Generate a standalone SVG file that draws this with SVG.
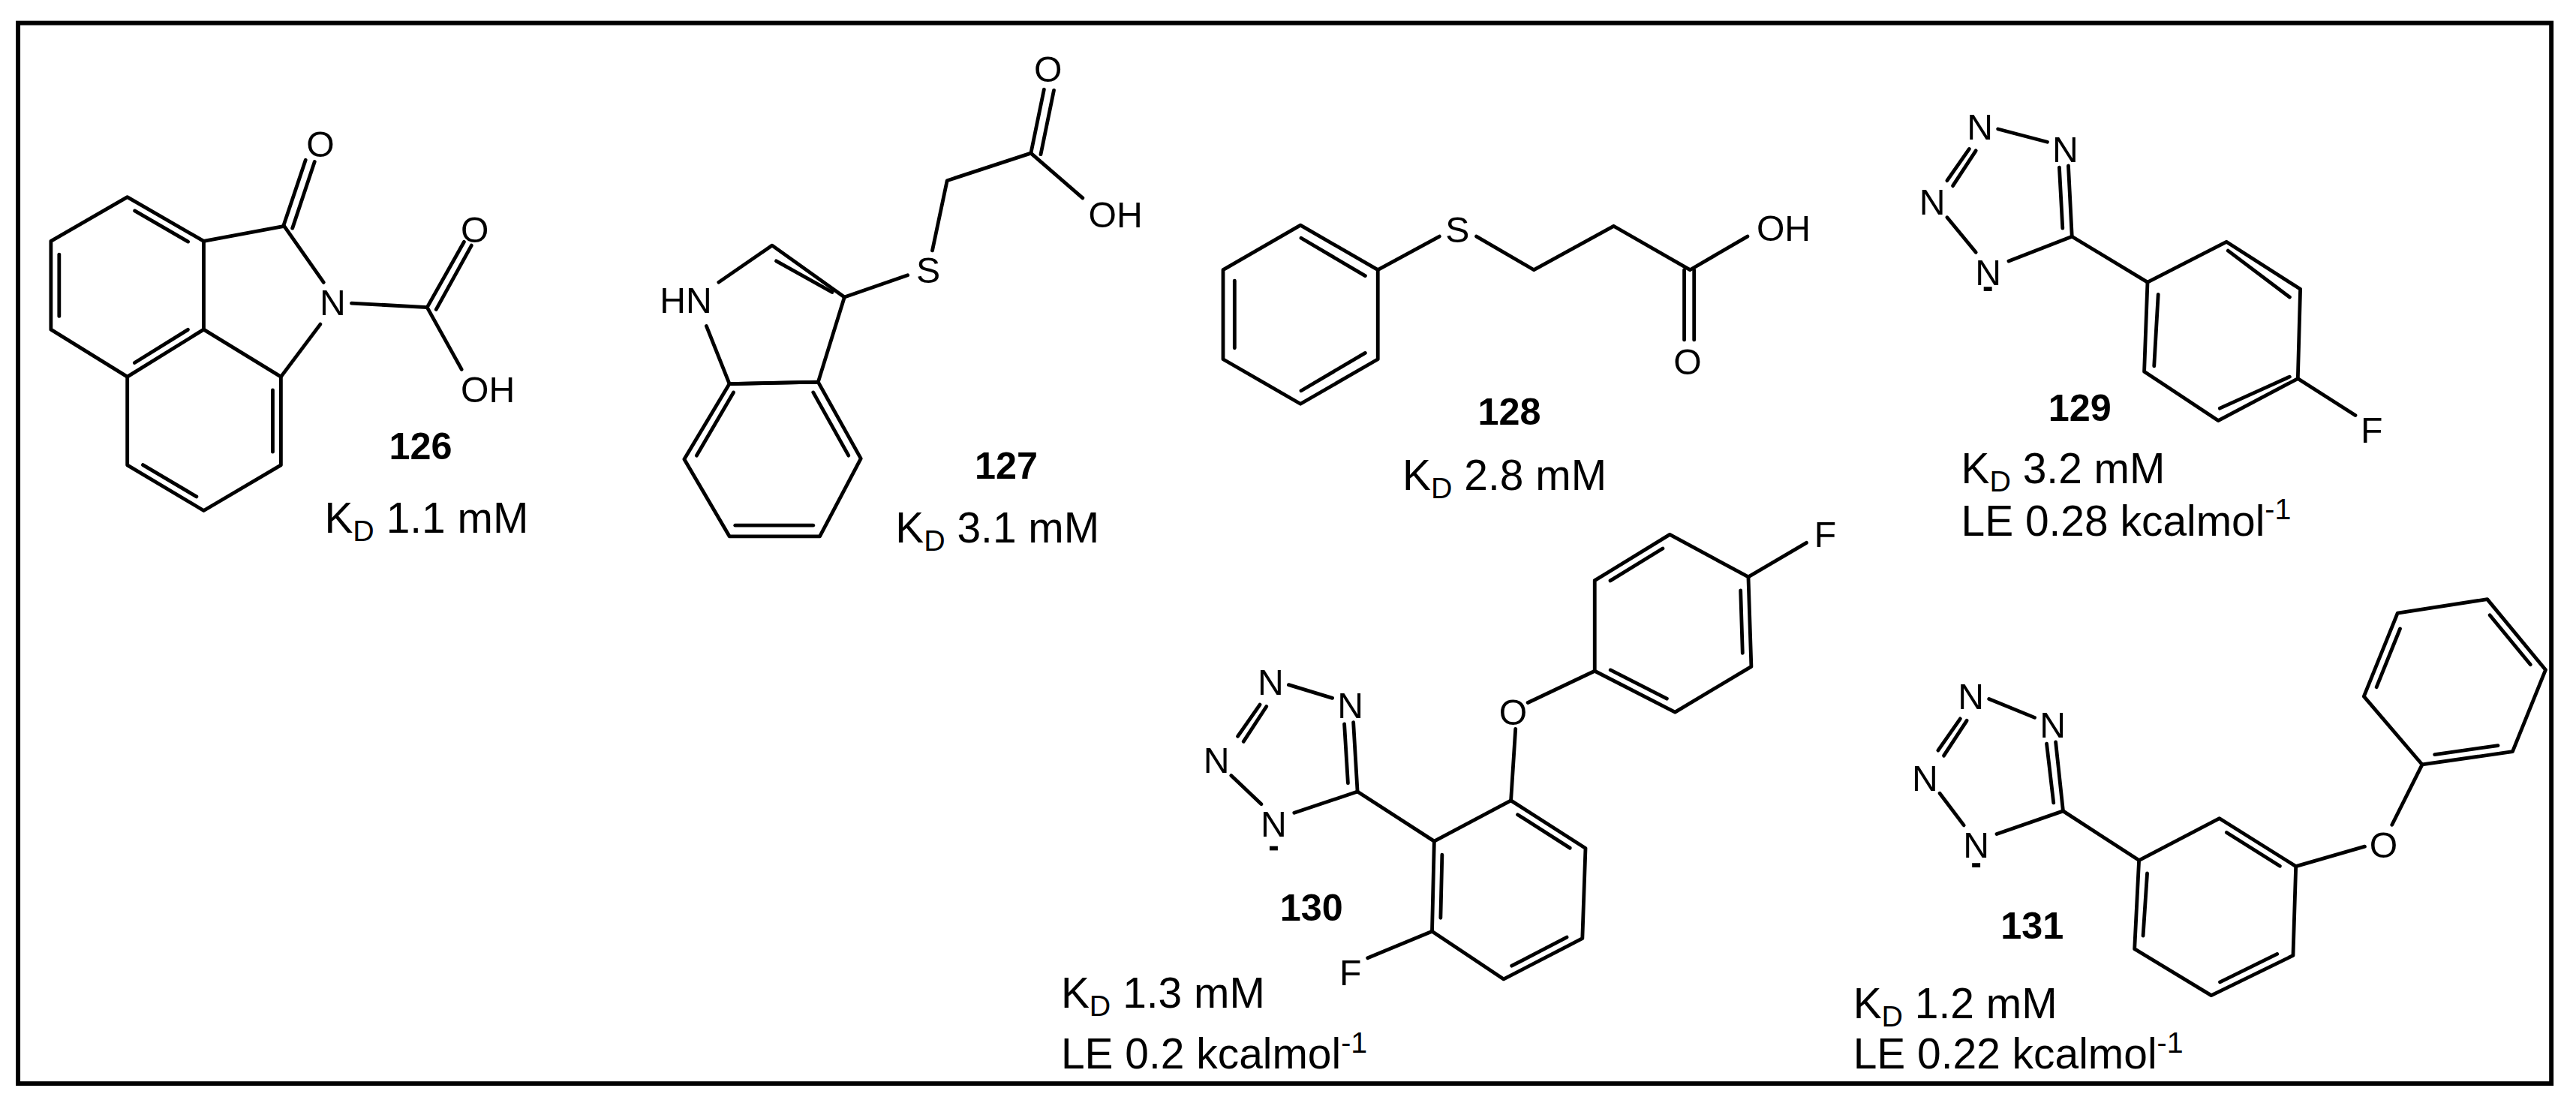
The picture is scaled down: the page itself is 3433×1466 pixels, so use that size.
<svg xmlns="http://www.w3.org/2000/svg" width="3433" height="1466" viewBox="0 0 3433 1466">
<style>
line,polyline,polygon{stroke:#000;stroke-width:2.2;fill:none;stroke-linecap:round;stroke-linejoin:round}
.a{font-family:"Liberation Sans",Arial,sans-serif;font-size:22px;text-anchor:middle}
.n{font-family:"Liberation Sans",Arial,sans-serif;font-size:23px;font-weight:bold;text-anchor:middle}
.t{font-family:"Liberation Sans",Arial,sans-serif;font-size:26px}
.s{font-size:18px}
</style>
<rect width="3433" height="1466" fill="#fff"/>
<g transform="scale(2.1894,2.188)">
<rect x="11" y="14" width="1542" height="646" fill="none" stroke="#000" stroke-width="2.7"/>
<g id="c126">
<polygon points="77.5,120 124,146.9 124,200.7 77.5,229.5 31,200.7 31,146.9"/>
<polyline points="77.5,229.5 77.5,283.3 124,311 171,283.3 171,229.5 124,200.7"/>
<line x1="82" y1="128.4" x2="114.5" y2="147.2"/><line x1="36" y1="155" x2="36" y2="192.6"/>
<line x1="81.9" y1="221" x2="114.4" y2="200.8"/><line x1="87" y1="283.2" x2="119.6" y2="302.5"/>
<line x1="166" y1="237.6" x2="166" y2="275.2"/>
<polyline points="124,146.9 173,137.7 197,172"/><line x1="195" y1="197.5" x2="171" y2="229.5"/>
<line x1="172.5" y1="137.7" x2="186" y2="97.5"/><line x1="178" y1="139" x2="191.5" y2="98.5"/>
<line x1="214" y1="184.7" x2="260" y2="187.2"/>
<line x1="260" y1="187.2" x2="282.5" y2="147.3"/><line x1="265.5" y1="188.5" x2="287" y2="149.5"/>
<line x1="260" y1="187.2" x2="281" y2="225"/>
<text class="a" x="195" y="95.5">O</text><text class="a" x="202.5" y="192">N</text>
<text class="a" x="289" y="147.8">O</text><text class="a" x="297" y="245">OH</text>
<text class="n" x="256" y="279.6">126</text>
<text class="t" x="197.5" y="324.5">K<tspan class="s" dy="5">D</tspan><tspan dy="-5"> 1.1 mM</tspan></text>
</g>
<g id="c127">
<polyline points="437.5,171.9 470,149.5 514,181 498,232.7 444,233.8 430,198.6"/>
<line x1="472.5" y1="159" x2="506.5" y2="178"/>
<polygon points="498,232.7 524,279.3 499,326.7 444,326.7 416.5,279.7 444,233.8"/>
<line x1="495" y1="239" x2="516.5" y2="277.5"/><line x1="447.5" y1="320" x2="495" y2="320"/>
<line x1="424" y1="277.5" x2="446.5" y2="239"/>
<line x1="514" y1="181" x2="552.5" y2="167.6"/>
<polyline points="567.5,152.6 576.5,110 627.5,93.3 659,120.6"/>
<line x1="627.5" y1="93.3" x2="635.5" y2="54.5"/><line x1="633.5" y1="94" x2="641.5" y2="55"/>
<text class="a" x="417.5" y="190.5">HN</text><text class="a" x="565" y="172.4">S</text>
<text class="a" x="638" y="49.6">O</text><text class="a" x="679" y="138.7">OH</text>
<text class="n" x="612.5" y="291.6">127</text>
<text class="t" x="545" y="330.5">K<tspan class="s" dy="5">D</tspan><tspan dy="-5"> 3.1 mM</tspan></text>
</g>
<g id="c128">
<polygon points="791.6,137.2 838.7,164.4 838.7,218.8 791.6,246 744.5,218.8 744.5,164.4"/>
<line x1="792" y1="145" x2="831" y2="168"/><line x1="831" y1="215" x2="792" y2="238"/>
<line x1="751.5" y1="171" x2="751.5" y2="212"/>
<line x1="838.7" y1="164.4" x2="876.2" y2="144"/>
<polyline points="898.7,144 933.7,164.4 982.2,137.7 1028.7,164.4 1063.7,144"/>
<line x1="1025.2" y1="164.4" x2="1025.2" y2="207"/><line x1="1031.2" y1="164.4" x2="1031.2" y2="207"/>
<text class="a" x="887.2" y="147.8">S</text><text class="a" x="1085.7" y="146.8">OH</text>
<text class="a" x="1027.2" y="228">O</text>
<text class="n" x="918.7" y="258.6">128</text>
<text class="t" x="853.7" y="298.5">K<tspan class="s" dy="5">D</tspan><tspan dy="-5"> 2.8 mM</tspan></text>
</g>
<g id="c129">
<line x1="1216.2" y1="78.6" x2="1246.2" y2="86.5"/>
<line x1="1259" y1="101" x2="1261.2" y2="144.1"/><line x1="1253.5" y1="102" x2="1255.5" y2="139"/>
<line x1="1198.7" y1="90.7" x2="1185.2" y2="110"/><line x1="1202.7" y1="91.8" x2="1188.7" y2="113.2"/>
<line x1="1185.2" y1="132.4" x2="1202.7" y2="153.7"/>
<polyline points="1222.7,159 1261.2,144.1 1307.2,171.9"/>
<polygon points="1307.2,171.9 1355.2,147.3 1400.2,176.1 1398.7,230.6 1350.2,256.2 1305.2,226.3"/>
<line x1="1356.2" y1="152.7" x2="1393.7" y2="181"/><line x1="1351.2" y1="248.7" x2="1393.7" y2="229.5"/>
<line x1="1313.7" y1="179.3" x2="1311.2" y2="223"/>
<line x1="1398.7" y1="230.6" x2="1433.7" y2="253"/>
<line x1="1207.5" y1="176" x2="1212.5" y2="176" style="stroke-width:2.6;stroke-linecap:butt"/>
<text class="a" x="1205.2" y="84.9">N</text><text class="a" x="1257.2" y="98.7">N</text>
<text class="a" x="1176.2" y="130.8">N</text><text class="a" x="1210.2" y="173.5">N</text>
<text class="a" x="1443.7" y="269.5">F</text>
<text class="n" x="1266" y="256.3">129</text>
<text class="t" x="1193.7" y="294.5">K<tspan class="s" dy="5">D</tspan><tspan dy="-5"> 3.2 mM</tspan></text>
<text class="t" x="1193.7" y="326.5">LE 0.28 kcalmol<tspan class="s" dy="-10">-1</tspan></text>
</g>
<g id="c130">
<line x1="784.4" y1="417.1" x2="811" y2="425.2"/>
<line x1="823.8" y1="440" x2="826.3" y2="482.2"/><line x1="818.3" y1="441" x2="820.5" y2="477"/>
<line x1="766.9" y1="429.2" x2="753.4" y2="448.5"/><line x1="770.9" y1="430.3" x2="756.9" y2="451.7"/>
<line x1="749.4" y1="472.4" x2="767.8" y2="489.8"/>
<polyline points="787.8,495.1 826.3,482.2 873,512.4"/>
<polygon points="873,512.4 919.7,487.6 965.1,516.7 963.2,571.6 915.3,596.4 871.7,567.3"/>
<line x1="923.8" y1="496.2" x2="955.6" y2="516.5"/><line x1="953.7" y1="570.9" x2="920.2" y2="588.3"/>
<line x1="877.8" y1="520.6" x2="876.9" y2="559.1"/>
<line x1="871.7" y1="567.3" x2="832.5" y2="583.5"/>
<polyline points="919.7,487.6 922.5,444"/>
<line x1="930" y1="428" x2="970.7" y2="408.7"/>
<polygon points="970.7,408.7 1019.6,433.8 1066,406 1064.2,351.4 1016.4,325.6 970.7,353.6"/>
<line x1="980.3" y1="408.1" x2="1014.6" y2="425.6"/><line x1="1060.7" y1="397.8" x2="1059.5" y2="359.6"/>
<line x1="1012.1" y1="334.1" x2="980.2" y2="353.7"/>
<line x1="1064.2" y1="351.4" x2="1099.6" y2="330.6"/>
<line x1="772.8" y1="516.7" x2="777.8" y2="516.7" style="stroke-width:2.6;stroke-linecap:butt"/>
<text class="a" x="773.4" y="423.4">N</text><text class="a" x="822" y="437.4">N</text>
<text class="a" x="740.4" y="470.8">N</text><text class="a" x="775.3" y="509.6">N</text>
<text class="a" x="822" y="600">F</text><text class="a" x="921" y="441.7">O</text>
<text class="a" x="1111" y="333">F</text>
<text class="n" x="798.3" y="560.6">130</text>
<text class="t" x="645.8" y="614">K<tspan class="s" dy="5">D</tspan><tspan dy="-5"> 1.3 mM</tspan></text>
<text class="t" x="645.8" y="651">LE 0.2 kcalmol<tspan class="s" dy="-10">-1</tspan></text>
</g>
<g id="c131">
<line x1="1210.7" y1="425.7" x2="1238.5" y2="437.1"/>
<line x1="1251.3" y1="452" x2="1255.8" y2="494"/><line x1="1245.8" y1="453" x2="1250" y2="489"/>
<line x1="1193.2" y1="437.8" x2="1179.7" y2="457.1"/><line x1="1197.2" y1="438.9" x2="1183.2" y2="460.3"/>
<line x1="1180.7" y1="483.2" x2="1195.4" y2="502.7"/>
<polyline points="1215.4,508 1255.8,494 1302,524"/>
<polygon points="1302,524 1351,498.5 1397.5,527.7 1395.8,582 1346,606.3 1299.3,578"/>
<line x1="1355.3" y1="507.1" x2="1387.8" y2="527.5"/><line x1="1386.1" y1="581.1" x2="1351.3" y2="598.2"/>
<line x1="1307" y1="532" x2="1304.5" y2="570"/>
<line x1="1397.5" y1="527.7" x2="1439.4" y2="515.6"/>
<line x1="1456" y1="502.4" x2="1474.4" y2="465.7"/>
<polygon points="1474.4,465.7 1529.4,457.8 1549.5,408 1514,365 1459.4,373.5 1438.9,424.2"/>
<line x1="1482" y1="459.6" x2="1520.5" y2="454.1"/><line x1="1540.3" y1="404.8" x2="1515.5" y2="374.7"/>
<line x1="1460.9" y1="383" x2="1446.6" y2="418.5"/>
<line x1="1200.4" y1="527" x2="1205.4" y2="527" style="stroke-width:2.6;stroke-linecap:butt"/>
<text class="a" x="1199.7" y="432">N</text><text class="a" x="1249.5" y="449.3">N</text>
<text class="a" x="1171.7" y="481.6">N</text><text class="a" x="1202.9" y="522.5">N</text>
<text class="a" x="1450.8" y="522.6">O</text>
<text class="n" x="1237" y="571.6">131</text>
<text class="t" x="1128" y="620">K<tspan class="s" dy="5">D</tspan><tspan dy="-5"> 1.2 mM</tspan></text>
<text class="t" x="1128" y="651">LE 0.22 kcalmol<tspan class="s" dy="-10">-1</tspan></text>
</g>
</g>
</svg>
